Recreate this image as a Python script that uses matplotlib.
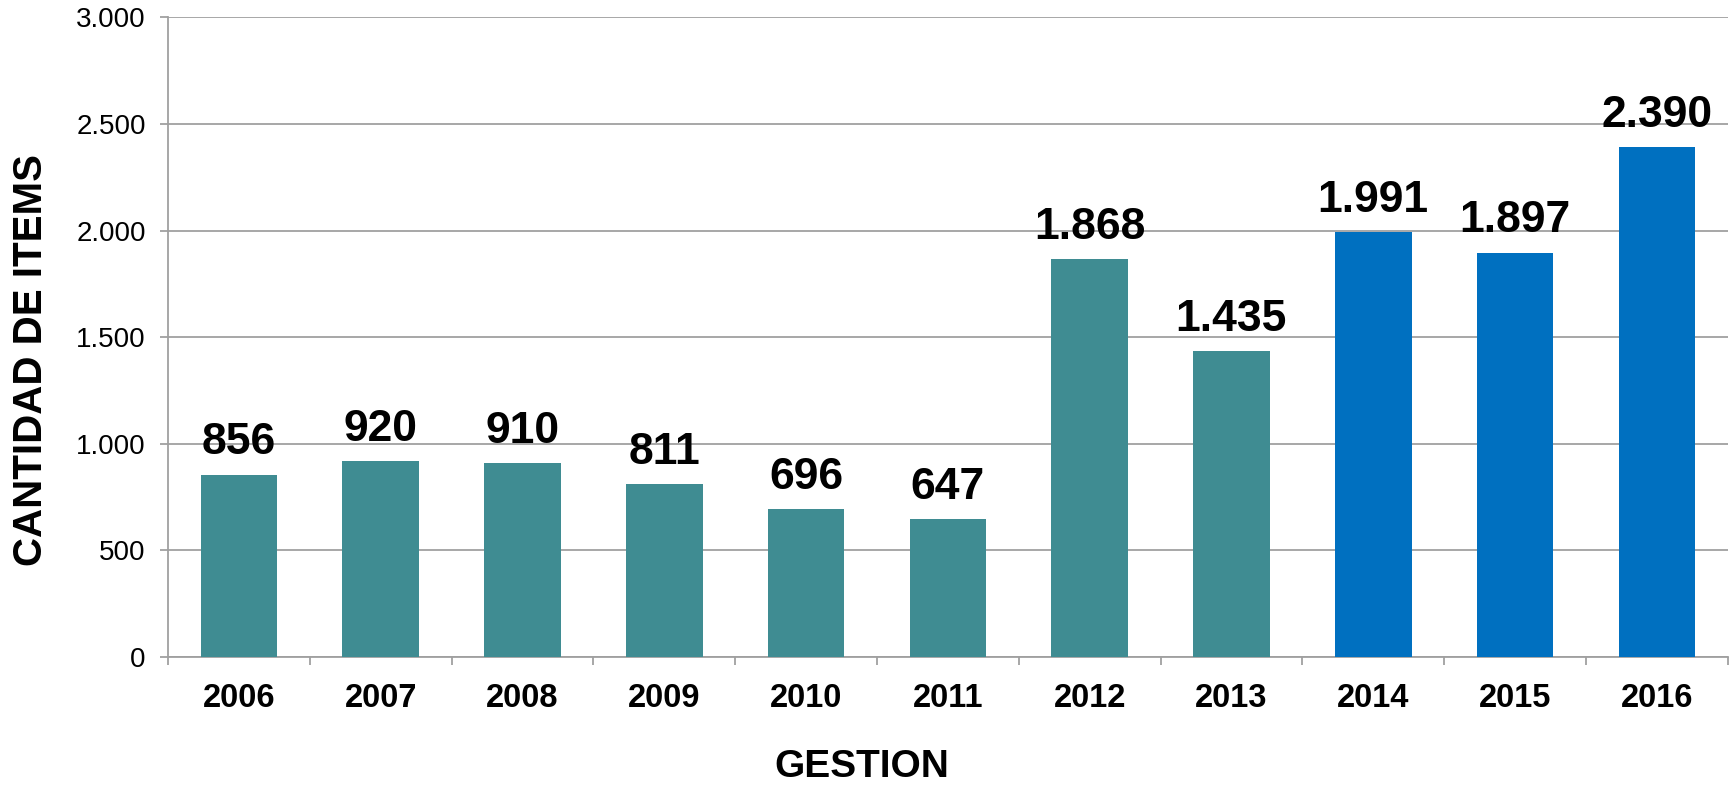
import numpy as np
import matplotlib
matplotlib.use("Agg")
import matplotlib.pyplot as plt
from matplotlib.ticker import FuncFormatter

# datos
gestiones = ["2006", "2007", "2008", "2009", "2010", "2011", "2012", "2013", "2014", "2015", "2016"]
cantidad = [856, 920, 910, 811, 696, 647, 1868, 1435, 1991, 1897, 2390]
colores = ["#3F8C92"] * 8 + ["#0070C0"] * 3

plt.rcParams['font.family'] = ['Liberation Sans', 'DejaVu Sans']

def miles(v, pos=None):
    return f"{int(v):,}".replace(",", ".")

fig = plt.figure(figsize=(17.35, 7.86), dpi=100)
ax = fig.add_axes([0.0968, 0.164, 0.899, 0.814])

x = np.arange(len(gestiones))
ax.bar(x, cantidad, width=0.54, color=colores, zorder=3)

for xi, v in zip(x, cantidad):
    ax.annotate(miles(v), (xi, v), xytext=(0, 8), textcoords="offset points",
                ha="center", va="bottom", fontsize=32, fontweight="bold", zorder=4)

ax.set_xlim(-0.5, len(gestiones) - 0.5)
ax.set_ylim(0, 3000)
ax.set_yticks(np.arange(0, 3001, 500))
ax.yaxis.set_major_formatter(FuncFormatter(miles))
ax.yaxis.grid(True, color="#A0A0A0", linewidth=1.3, zorder=0)

ax.set_xticks(x)
ax.set_xticklabels(gestiones, fontsize=23.5, fontweight="bold")
ax.set_xticks(np.arange(-0.5, len(gestiones)), minor=True)
ax.tick_params(axis="x", which="major", length=0, pad=19)
ax.tick_params(axis="x", which="minor", length=6, width=1.3, color="#A0A0A0")
ax.tick_params(axis="y", length=6, width=1.3, color="#A0A0A0", labelsize=20, pad=10)

for s in ["top", "right"]:
    ax.spines[s].set_visible(False)
for s in ["left", "bottom"]:
    ax.spines[s].set_color("#A0A0A0")
    ax.spines[s].set_linewidth(1.3)

ax.set_ylabel("CANTIDAD DE ITEMS", fontsize=29, fontweight="bold", va="center")
ax.yaxis.set_label_coords(-0.0878, 0.464)
ax.set_xlabel("GESTION", fontsize=28, fontweight="bold", va="center")
ax.xaxis.set_label_coords(0.445, -0.172)

fig.savefig("out.png", dpi=100)
